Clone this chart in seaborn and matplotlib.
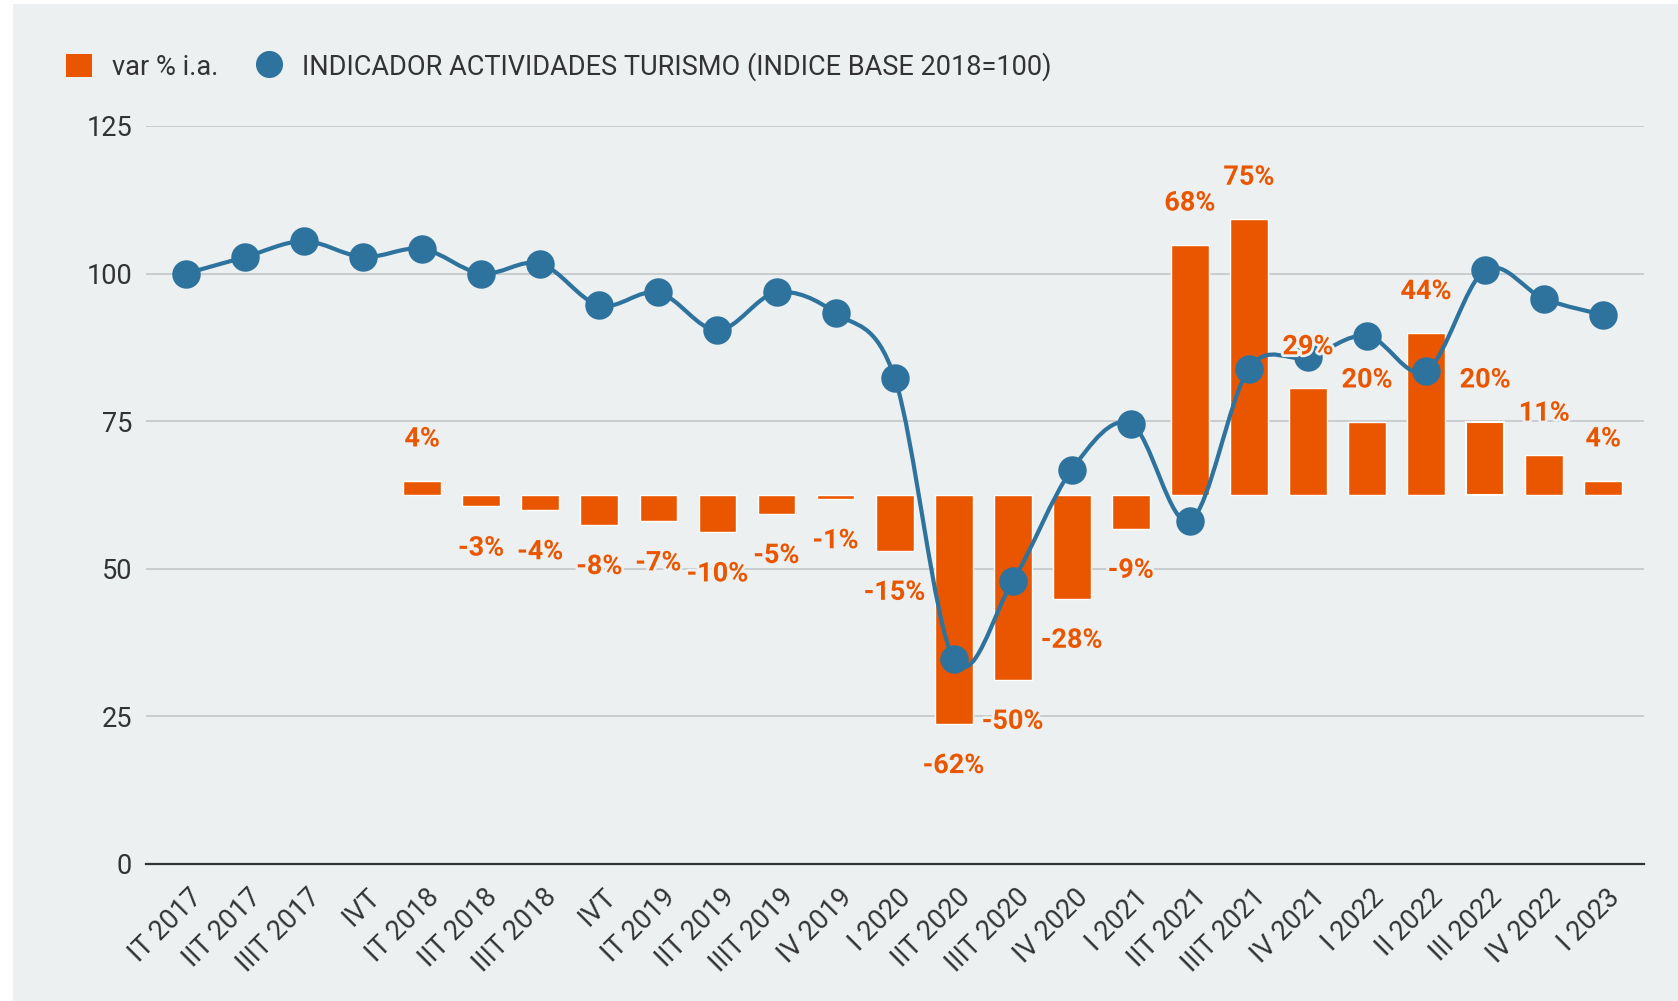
import numpy as np
import pandas as pd
import matplotlib
matplotlib.use("Agg")
import matplotlib.pyplot as plt
import seaborn as sns
from matplotlib.patches import Patch, Rectangle, PathPatch
from matplotlib.lines import Line2D
from matplotlib.path import Path
import matplotlib.patheffects as pe
import matplotlib.transforms as mtransforms

# ---------------- data ----------------
categories = ["IT 2017", "IIT 2017", "IIIT 2017", "IVT", "IT 2018", "IIT 2018",
              "IIIT 2018", "IVT", "IT 2019", "IIT 2019", "IIIT 2019", "IV 2019",
              "I 2020", "IIT 2020", "IIIT 2020", "IV 2020", "I 2021", "IIT 2021",
              "IIIT 2021", "IV 2021", "I 2022", "II 2022", "III 2022", "IV 2022",
              "I 2023"]
index_values = [100.0, 102.8, 105.5, 102.8, 104.2, 100.0, 101.7, 94.6, 96.8, 90.4,
                96.8, 93.3, 82.4, 34.7, 47.9, 66.8, 74.6, 58.1, 83.9, 85.8,
                89.5, 83.5, 100.6, 95.7, 93.0]
bar_start = 4  # first category with a var % value
var_values = [4, -3, -4, -8, -7, -10, -5, -1, -15, -62, -50, -28, -9, 68, 75,
              29, 20, 44, 20, 11, 4]
yticks_left = [0, 25, 50, 75, 100, 125]

series_bar = "var % i.a."
series_line = "INDICADOR ACTIVIDADES TURISMO (INDICE BASE 2018=100)"

# ---------------- style ----------------
BG = "#ECF0F1"
ORANGE = "#EA5600"
BLUE = "#2E739D"
TXT = "#333333"
GRID = "#C3C7C9"
FS = 19.5

sns.set_theme(style="white")
plt.rcParams["font.family"] = ["Roboto", "DejaVu Sans"]

W, H = 1678, 1001
fig = plt.figure(figsize=(W / 100, H / 100), dpi=100, facecolor=BG)

# white margins at left / top of the screenshot
fig.patches.append(Rectangle((0, 0), 13 / W, 1, transform=fig.transFigure,
                             facecolor="white", edgecolor="none", zorder=-1))
fig.patches.append(Rectangle((0, 1 - 4 / H), 1, 4 / H, transform=fig.transFigure,
                             facecolor="white", edgecolor="none", zorder=-1))

left, right, top, bottom = 146, 1644, 126, 864
ax = fig.add_axes([left / W, 1 - bottom / H, (right - left) / W, (bottom - top) / H])
ax.set_facecolor(BG)

x_pos = np.arange(len(categories))
bar_x = x_pos[bar_start:bar_start + len(var_values)]

# ---------------- bars (secondary scale) ----------------
ax2 = ax.twinx()
sns.barplot(x=bar_x, y=var_values, native_scale=True, width=0.64, color=ORANGE,
            saturation=1, errorbar=None, ax=ax2)
sel = categories.index("III 2022") - bar_start
ax2.patches[sel].set_edgecolor("white")
ax2.patches[sel].set_linewidth(1.5)
ax2.set_ylim(-100, 100.2)

# ---------------- line (primary scale, drawn on top) ----------------
ax3 = ax.twinx()
ax3.set_ylim(0, 125)


def smooth_path(xs, ys, t=1 / 6):
    verts = [(xs[0], ys[0])]
    codes = [Path.MOVETO]
    n = len(xs)
    for i in range(n - 1):
        x0, y0 = (xs[i - 1], ys[i - 1]) if i > 0 else (xs[i], ys[i])
        x3, y3 = (xs[i + 2], ys[i + 2]) if i + 2 < n else (xs[i + 1], ys[i + 1])
        c1 = (xs[i] + (xs[i + 1] - x0) * t, ys[i] + (ys[i + 1] - y0) * t)
        c2 = (xs[i + 1] - (x3 - xs[i]) * t, ys[i + 1] - (y3 - ys[i]) * t)
        verts += [c1, c2, (xs[i + 1], ys[i + 1])]
        codes += [Path.CURVE4] * 3
    return Path(verts, codes)


ax3.add_patch(PathPatch(smooth_path(list(x_pos), index_values), facecolor="none",
                        edgecolor=BLUE, lw=3.0, zorder=2, capstyle="round",
                        joinstyle="round"))
sns.scatterplot(x=x_pos, y=index_values, color=BLUE, s=420, linewidth=0,
                ax=ax3, zorder=3, legend=False)

# ---------------- bar value labels ----------------
for xv, v in zip(bar_x, var_values):
    ax3.annotate(f"{v}%", xy=(xv, v), xycoords=ax2.transData,
                 xytext=(0, 30 if v > 0 else -30), textcoords="offset points",
                 ha="center", va="center", fontsize=FS, fontweight="bold",
                 color=ORANGE, zorder=5, annotation_clip=False,
                 path_effects=[pe.withStroke(linewidth=4, foreground=BG)])

# ---------------- axes cosmetics ----------------
ax.set_xlim(-0.677, len(categories) - 1 + 0.69)
ax.set_ylim(0, 125)
ax.set_yticks(yticks_left)
ax.set_yticklabels([str(v) for v in yticks_left])
ax.yaxis.grid(True, color=GRID, lw=1.2)
ax.set_axisbelow(True)
ax.set_xticks(x_pos)
ax.set_xticklabels(categories)
ax.tick_params(axis="y", length=0, pad=10, labelsize=FS, labelcolor=TXT)
ax.tick_params(axis="x", length=0, pad=21, labelsize=FS, labelcolor=TXT)
offset = mtransforms.ScaledTranslation(9 / 72, 0, fig.dpi_scale_trans)
for lab in ax.get_xticklabels():
    lab.set_rotation(45)
    lab.set_ha("right")
    lab.set_va("center")
    lab.set_rotation_mode("anchor")
    lab.set_transform(lab.get_transform() + offset)
for s in ["top", "left", "right"]:
    ax.spines[s].set_visible(False)
ax.spines["bottom"].set_color(TXT)
ax.spines["bottom"].set_linewidth(1.6)

for a in (ax2, ax3):
    a.set_xlim(ax.get_xlim())
    a.set_yticks([])
    a.set_xlabel("")
    a.set_ylabel("")
    for s in a.spines.values():
        s.set_visible(False)
ax.set_xlabel("")
ax.set_ylabel("")

# ---------------- legend ----------------
handles = [Patch(facecolor=ORANGE, edgecolor="none", label=series_bar),
           Line2D([], [], marker="o", ls="none", ms=19.5, color=BLUE,
                  markeredgewidth=0, label=series_line)]
fig.legend(handles=handles, loc="center left", bbox_to_anchor=(66 / W, 1 - 67 / H),
           ncol=2, frameon=False, fontsize=FS, handlelength=0.96, handleheight=0.96,
           handletextpad=0.74, columnspacing=1.37, borderpad=0, borderaxespad=0,
           labelcolor=TXT)

fig.savefig("out.png", dpi=100, facecolor=BG)
